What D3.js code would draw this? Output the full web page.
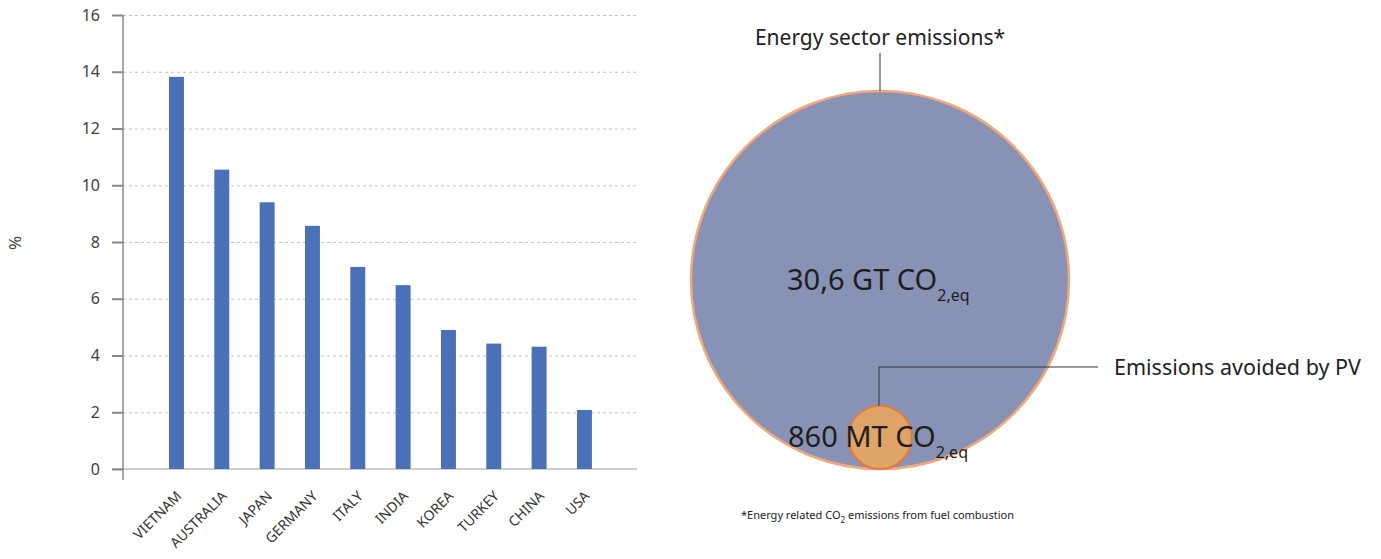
<!DOCTYPE html>
<html>
<head>
<meta charset="utf-8">
<script src="https://cdn.jsdelivr.net/npm/d3@7"></script>
<style>
  body { margin: 0; background: #fff; }
  svg { display: block; }
  svg text { font-family: "Noto Sans", "Open Sans", sans-serif; }
</style>
</head>
<body>
<svg width="1381" height="559"></svg>
<script>
// bar chart data
var countries = ["VIETNAM", "AUSTRALIA", "JAPAN", "GERMANY", "ITALY", "INDIA", "KOREA", "TURKEY", "CHINA", "USA"];
var shares = [13.82, 10.55, 9.4, 8.57, 7.12, 6.48, 4.9, 4.42, 4.31, 2.08];
var yTicks = [0, 2, 4, 6, 8, 10, 12, 14, 16];

// bubble data (MT CO2,eq)
var bubbleNames = ["Energy sector emissions*", "Emissions avoided by PV"];
var bubbleValues = [30600, 860];
var bubbleLabels = ["30,6 GT CO", "860 MT CO"];

var svg = d3.select("svg");

// ---- left: bar chart ----
var x = d3.scaleBand()
    .domain(countries)
    .range([153.8, 607.1])
    .paddingInner(0.67)
    .paddingOuter(0.335);

var y = d3.scaleLinear()
    .domain([0, 16])
    .range([469, 15]);

// dashed grid
var grid = svg.append("g")
    .attr("transform", "translate(123,0)")
    .call(d3.axisLeft(y).tickValues(yTicks.slice(1)).tickSize(-514).tickFormat(""));
grid.select(".domain").remove();
grid.selectAll("line")
    .attr("stroke", "#c4c4c4")
    .attr("stroke-dasharray", "3,3");

// baseline
svg.append("line")
    .attr("x1", 112).attr("x2", 637)
    .attr("y1", y(0)).attr("y2", y(0))
    .attr("stroke", "#bdbdbd")
    .attr("stroke-width", 1.5);

svg.selectAll(".bar")
    .data(shares)
    .enter().append("rect")
    .attr("class", "bar")
    .attr("x", function (d, i) { return x(countries[i]); })
    .attr("width", x.bandwidth())
    .attr("y", function (d) { return y(d); })
    .attr("height", function (d) { return y(0) - y(d); })
    .attr("fill", "#4a71b8");

// y axis
var yAxis = svg.append("g")
    .attr("transform", "translate(123,0)")
    .call(d3.axisLeft(y).tickValues(yTicks).tickSize(11).tickSizeOuter(0).tickPadding(12));
yAxis.attr("font-family", null).attr("font-size", null);
yAxis.select(".domain").remove();
yAxis.selectAll("line").attr("stroke", "#888").attr("stroke-width", 2);
yAxis.selectAll("text")
    .attr("fill", "#404040")
    .style("font-size", "16px");
svg.append("line")
    .attr("x1", 123).attr("x2", 123)
    .attr("y1", y(16)).attr("y2", 480)
    .attr("stroke", "#888")
    .attr("stroke-width", 1.5);

// x labels
var xAxis = svg.append("g")
    .attr("transform", "translate(0," + y(0) + ")")
    .call(d3.axisBottom(x).tickSize(0).tickPadding(0));
xAxis.attr("font-family", null).attr("font-size", null);
xAxis.select(".domain").remove();
xAxis.selectAll("text")
    .attr("fill", "#333")
    .style("font-size", "14px")
    .attr("text-anchor", "end")
    .attr("dy", null)
    .attr("y", null)
    .attr("transform", "translate(6,28) rotate(-45)");

svg.append("text")
    .attr("transform", "translate(21,243) rotate(-90)")
    .attr("text-anchor", "middle")
    .attr("fill", "#404040")
    .style("font-size", "17px")
    .text("%");

// ---- right: nested bubbles ----
var r = d3.scaleSqrt().domain([0, bubbleValues[0]]).range([0, 189]);
var cx = 880, bottom = 469;

var bubbles = svg.append("g");
bubbles.selectAll("circle")
    .data(bubbleValues)
    .enter().append("circle")
    .attr("cx", cx)
    .attr("cy", function (d) { return bottom - r(d); })
    .attr("r", function (d) { return r(d); })
    .attr("fill", function (d, i) { return i === 0 ? "#8792b5" : "#dfa467"; })
    .attr("stroke", function (d, i) { return i === 0 ? "#f2a77a" : "#e07b3c"; })
    .attr("stroke-width", function (d, i) { return i === 0 ? 2.5 : 2; });

// leaders
var bigTop = bottom - 2 * r(bubbleValues[0]);
var smallTop = bottom - 2 * r(bubbleValues[1]);
svg.append("line")
    .attr("x1", cx).attr("x2", cx)
    .attr("y1", bigTop).attr("y2", 53)
    .attr("stroke", "#333").attr("stroke-width", 1);
svg.append("polyline")
    .attr("points", [[cx - 1, smallTop], [cx - 1, 367], [1098, 367]].join(" "))
    .attr("fill", "none")
    .attr("stroke", "#333").attr("stroke-width", 1);

svg.append("text")
    .attr("x", cx).attr("y", 45)
    .attr("text-anchor", "middle")
    .attr("fill", "#222")
    .style("font-size", "21px")
    .text(bubbleNames[0]);
svg.append("text")
    .attr("x", 1114).attr("y", 375)
    .attr("fill", "#222")
    .style("font-size", "21.5px")
    .text(bubbleNames[1]);

// value labels with subscripts
var valuePos = [[787, 290], [788, 447]];
bubbleLabels.forEach(function (lab, i) {
    var t = svg.append("text")
        .attr("x", valuePos[i][0]).attr("y", valuePos[i][1])
        .attr("fill", "#1e1e1e")
        .style("font-size", "29px");
    t.append("tspan").text(lab);
    t.append("tspan").attr("dy", 11).style("font-size", "16px").text("2,eq");
});

// footnote
var fn = svg.append("text")
    .attr("x", 741).attr("y", 519)
    .attr("fill", "#222")
    .style("font-size", "11px");
fn.append("tspan").text("*Energy related CO");
fn.append("tspan").attr("dy", 4).style("font-size", "8px").text("2");
fn.append("tspan").attr("dy", -4).text(" emissions from fuel combustion");
</script>
</body>
</html>
